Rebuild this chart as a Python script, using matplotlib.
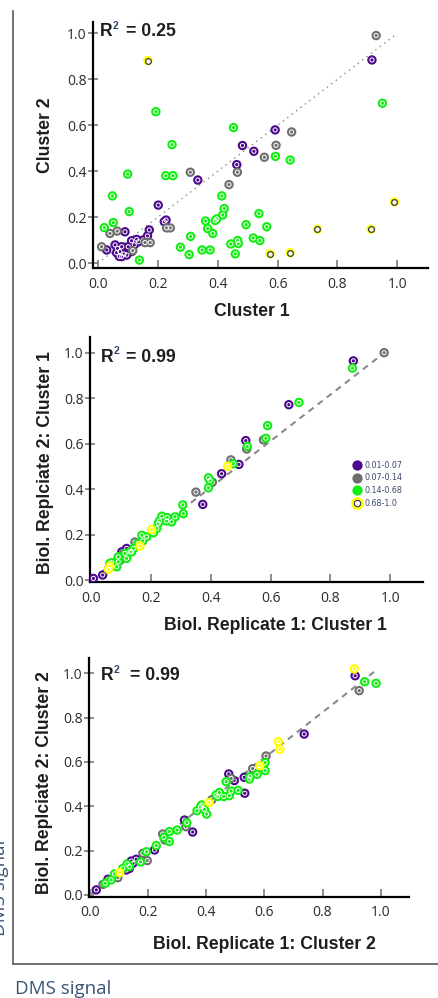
import matplotlib
matplotlib.use('Agg')
import matplotlib.pyplot as plt
from matplotlib.lines import Line2D
import numpy as np

# bins of DMS signal: 0 = 0.01-0.07, 1 = 0.07-0.14, 2 = 0.14-0.68, 3 = 0.68-1.0
bin_labels = ['0.01-0.07', '0.07-0.14', '0.14-0.68', '0.68-1.0']
bin_colors = ['#4b0a8c', '#6e6e6e', '#11ee11', '#ffff00']

# --- panel 1: Cluster 1 vs Cluster 2 ---
p1_x = [0.915, 0.592, 0.483, 0.521, 0.464, 0.334, 0.202, 0.228, 0.222, 0.172, 0.091, 0.030,
        0.058, 0.066, 0.074, 0.080, 0.097, 0.088, 0.063, 0.080, 0.113, 0.113, 0.130, 0.136,
        0.152, 0.166, 0.072, 0.102, 0.122,
        0.929, 0.647, 0.595, 0.556, 0.466, 0.438, 0.309, 0.230, 0.242, 0.013, 0.041, 0.065,
        0.117, 0.158, 0.175,
        0.022, 0.049, 0.052, 0.100, 0.105, 0.139, 0.194, 0.248, 0.227, 0.251, 0.276, 0.305,
        0.310, 0.348, 0.375, 0.360, 0.367, 0.384, 0.392, 0.397, 0.414, 0.417, 0.422, 0.453,
        0.444, 0.459, 0.467, 0.469, 0.495, 0.519, 0.538, 0.541, 0.564, 0.593, 0.642, 0.950,
        0.167, 0.733, 0.912, 0.990, 0.575, 0.642]
p1_y = [0.884, 0.580, 0.512, 0.487, 0.429, 0.362, 0.253, 0.188, 0.181, 0.145, 0.137, 0.058,
        0.080, 0.065, 0.051, 0.029, 0.036, 0.040, 0.046, 0.072, 0.051, 0.098, 0.104, 0.094,
        0.101, 0.119, 0.030, 0.072, 0.080,
        0.990, 0.571, 0.513, 0.461, 0.396, 0.342, 0.396, 0.154, 0.154, 0.072, 0.130, 0.140,
        0.055, 0.090, 0.090,
        0.155, 0.293, 0.177, 0.388, 0.225, 0.014, 0.659, 0.516, 0.381, 0.381, 0.070, 0.038,
        0.117, 0.058, 0.058, 0.184, 0.151, 0.130, 0.186, 0.193, 0.293, 0.210, 0.238, 0.590,
        0.084, 0.041, 0.099, 0.086, 0.168, 0.110, 0.216, 0.099, 0.159, 0.465, 0.449, 0.696,
        0.881, 0.148, 0.148, 0.267, 0.041, 0.046]
p1_bin = [0] * 29 + [1] * 15 + [2] * 36 + [3] * 6

# --- panel 2: replicate 1 vs replicate 2, cluster 1 ---
p2_x = [0.877, 0.661, 0.517, 0.494, 0.436, 0.373, 0.118, 0.102, 0.096, 0.085, 0.074, 0.038,
        0.007, 0.125, 0.060,
        0.980, 0.576, 0.520, 0.467, 0.405, 0.350, 0.146, 0.098, 0.107,
        0.874, 0.695, 0.590, 0.584, 0.522, 0.475, 0.392, 0.397, 0.392, 0.306, 0.308, 0.236,
        0.254, 0.280, 0.269, 0.224, 0.208, 0.185, 0.169, 0.172, 0.157, 0.130, 0.141, 0.113,
        0.118, 0.090, 0.068, 0.090, 0.062, 0.085, 0.135, 0.228, 0.252, 0.219,
        0.456, 0.202, 0.163, 0.062, 0.057]
p2_y = [0.965, 0.772, 0.614, 0.509, 0.468, 0.333, 0.139, 0.124, 0.102, 0.080, 0.066, 0.022,
        0.007, 0.130, 0.055,
        1.001, 0.617, 0.577, 0.529, 0.431, 0.387, 0.167, 0.088, 0.117,
        0.933, 0.782, 0.680, 0.624, 0.588, 0.512, 0.450, 0.439, 0.406, 0.331, 0.292, 0.281,
        0.275, 0.278, 0.256, 0.249, 0.208, 0.190, 0.197, 0.172, 0.161, 0.124, 0.139, 0.117,
        0.095, 0.102, 0.076, 0.080, 0.073, 0.058, 0.124, 0.260, 0.260, 0.227,
        0.501, 0.222, 0.149, 0.061, 0.047]
p2_bin = [0] * 15 + [1] * 9 + [2] * 34 + [3] * 5

# --- panel 3: replicate 1 vs replicate 2, cluster 2 ---
p3_x = [0.912, 0.737, 0.531, 0.478, 0.497, 0.533, 0.354, 0.326, 0.223, 0.160, 0.143, 0.137,
        0.126, 0.149, 0.063, 0.023,
        0.926, 0.606, 0.577, 0.486, 0.331, 0.251, 0.259, 0.198, 0.183, 0.097, 0.046, 0.560,
        0.420,
        0.945, 0.984, 0.603, 0.603, 0.575, 0.551, 0.549, 0.469, 0.510, 0.486, 0.480, 0.461,
        0.440, 0.434, 0.446, 0.402, 0.394, 0.381, 0.369, 0.385, 0.334, 0.301, 0.274, 0.274,
        0.255, 0.229, 0.195, 0.175, 0.129, 0.137, 0.086, 0.074, 0.054, 0.114,
        0.909, 0.648, 0.653, 0.585, 0.410, 0.103]
p3_y = [0.989, 0.726, 0.531, 0.546, 0.516, 0.459, 0.284, 0.338, 0.203, 0.161, 0.153, 0.120,
        0.113, 0.143, 0.071, 0.023,
        0.922, 0.627, 0.576, 0.526, 0.308, 0.275, 0.248, 0.155, 0.188, 0.078, 0.048, 0.570,
        0.430,
        0.962, 0.955, 0.597, 0.561, 0.544, 0.534, 0.523, 0.511, 0.472, 0.469, 0.448, 0.444,
        0.444, 0.451, 0.462, 0.365, 0.386, 0.398, 0.380, 0.406, 0.326, 0.293, 0.286, 0.241,
        0.260, 0.223, 0.195, 0.149, 0.140, 0.128, 0.095, 0.068, 0.053, 0.120,
        1.020, 0.692, 0.657, 0.583, 0.417, 0.101]
p3_bin = [0] * 16 + [1] * 13 + [2] * 34 + [3] * 6

ticks = [0.0, 0.2, 0.4, 0.6, 0.8, 1.0]
W, H = 439, 998


def fx(px):
    return px / W


def fy(py):
    return 1 - py / H


def draw_points(ax, xs, ys, bins, yellow_dark):
    xs = np.array(xs)
    ys = np.array(ys)
    bins = np.array(bins)
    for b in range(4):
        m = bins == b
        ax.scatter(xs[m], ys[m], s=46, color=bin_colors[b], edgecolors='none', zorder=3 + b)
        if b == 3 and yellow_dark:
            # dark ring with pale centre, as in the top panel
            ax.scatter(xs[m], ys[m], s=17, facecolors='#fffbe0', edgecolors='#3a3a3a',
                       linewidths=0.9, zorder=3 + b)
        else:
            ax.scatter(xs[m], ys[m], s=9, facecolors='none', edgecolors='white',
                       linewidths=0.7, zorder=3 + b)


def style_axes(ax, xlim, ylim):
    ax.set_xlim(*xlim)
    ax.set_ylim(*ylim)
    ax.set_xticks(ticks)
    ax.set_yticks(ticks)
    ax.set_xticklabels([f'{t:.1f}' for t in ticks])
    ax.set_yticklabels([f'{t:.1f}' for t in ticks])
    for s in ['top', 'right']:
        ax.spines[s].set_visible(False)
    for s in ['left', 'bottom']:
        ax.spines[s].set_linewidth(1.6)
        ax.spines[s].set_color('black')
    ax.tick_params(axis='x', direction='in', length=6, width=1.2, color='#7a7a7a', pad=6)
    ax.tick_params(axis='y', direction='inout', length=7, width=1.2, color='#7a7a7a', pad=1)
    for lab in ax.get_xticklabels() + ax.get_yticklabels():
        lab.set_fontfamily('Open Sans')
        lab.set_fontsize(10)
        lab.set_color('#2a2a2a')


def r2_text(base_px, base_py, sup_px, sup_py, rest_px, value):
    kw = dict(fontfamily='Liberation Sans', fontweight='bold', va='baseline', ha='left')
    fig.text(fx(base_px), fy(base_py), 'R', fontsize=12.7, color='#1e1e1e', **kw)
    fig.text(fx(sup_px), fy(sup_py), '2', fontsize=7.5, color='#2b4570', **kw)
    fig.text(fx(rest_px), fy(base_py), '= ' + value, fontsize=12.7, color='#1e1e1e', **kw)


label_kw = dict(fontfamily='Liberation Sans', fontweight='bold', fontsize=12.7, color='#1e1e1e')

fig = plt.figure(figsize=(W / 100, H / 100), dpi=100)

# panel 1
ax1 = fig.add_axes([fx(92.7), fy(268.3), (427.7 - 92.7) / W, (268.3 - 22) / H])
ax1.plot([0, 0.99], [0, 0.99], linestyle=(0, (1, 3)), color='#888888', linewidth=1.0, zorder=2)
draw_points(ax1, p1_x, p1_y, p1_bin, True)
style_axes(ax1, (-0.0167, 1.101), (-0.0217, 1.049))
ax1.set_xlabel('Cluster 1', va='center', **label_kw)
ax1.set_ylabel('Cluster 2', va='center', **label_kw)
ax1.xaxis.set_label_coords(0.4746, -0.176)
ax1.yaxis.set_label_coords(-0.142, 0.541)
r2_text(100, 35.7, 113, 29.3, 126, '0.25')

# panel 2
ax2 = fig.add_axes([fx(90), fy(582.3), 333.3 / W, 245.6 / H])
ax2.plot([0, 0.98], [0, 1.0], linestyle=(0, (3, 2.5)), color='#8a8a8a', linewidth=1.5, zorder=2)
draw_points(ax2, p2_x, p2_y, p2_bin, False)
style_axes(ax2, (-0.0044, 1.111), (-0.0101, 1.0715))
ax2.set_xlabel('Biol. Replicate 1: Cluster 1', va='center', **label_kw)
ax2.set_ylabel('Biol. Replciate 2: Cluster 1', va='center', **label_kw)
ax2.xaxis.set_label_coords(0.556, -0.174)
ax2.yaxis.set_label_coords(-0.135, 0.486)
r2_text(101, 362.3, 114, 354, 126, '0.99')

handles = []
for b in range(4):
    if b == 3:
        outer = Line2D([], [], linestyle='none', marker='o', markersize=7.4,
                       markerfacecolor='white', markeredgecolor=bin_colors[b], markeredgewidth=1.7)
        inner = Line2D([], [], linestyle='none', marker='o', markersize=4.6,
                       markerfacecolor='none', markeredgecolor='#333333', markeredgewidth=0.8)
        handles.append((outer, inner))
    else:
        handles.append(Line2D([], [], linestyle='none', marker='o', markersize=7.4,
                              markerfacecolor=bin_colors[b], markeredgecolor='none'))
leg = ax2.legend(handles, bin_labels, loc='center left', bbox_to_anchor=(0.788, 0.3995),
                 frameon=False, fontsize=5.8, handlelength=1.0, handletextpad=0.45,
                 labelspacing=0.45, borderpad=0, borderaxespad=0)
for t in leg.get_texts():
    t.set_color('#3c4a6c')

# panel 3
ax3 = fig.add_axes([fx(89), fy(896.7), 320 / W, 238.4 / H])
ax3.plot([0, 0.99], [0, 1.02], linestyle=(0, (3, 2.5)), color='#8a8a8a', linewidth=1.5, zorder=2)
draw_points(ax3, p3_x, p3_y, p3_bin, False)
style_axes(ax3, (-0.002, 1.097), (-0.0077, 1.0677))
ax3.set_xlabel('Biol. Replicate 1: Cluster 2', va='center', **label_kw)
ax3.set_ylabel('Biol. Replciate 2: Cluster 2', va='center', **label_kw)
ax3.xaxis.set_label_coords(0.548, -0.2026)
ax3.yaxis.set_label_coords(-0.1375, 0.477)
r2_text(101, 680, 114, 672.7, 130, '0.99')

# outer frame and "DMS signal" captions (the rotated one is cut by the left edge, as in the source)
fig.add_artist(Line2D([fx(12.7), fx(12.7)], [fy(11), fy(964)], color='#5a5a5a', linewidth=1.2))
fig.add_artist(Line2D([fx(12.7), 1.0], [fy(964), fy(964)], color='#5a5a5a', linewidth=1.2))
fig.text(fx(15), fy(994), 'DMS signal', fontfamily='Open Sans', fontsize=13.5,
         color='#3b5478', ha='left', va='baseline')
fig.text(fx(5), fy(888), 'DMS signal', fontfamily='Open Sans', fontsize=13.5,
         color='#3b5478', ha='center', va='baseline', rotation=90, rotation_mode='anchor')

plt.savefig('out.png', dpi=100)
print("saved out.png")
